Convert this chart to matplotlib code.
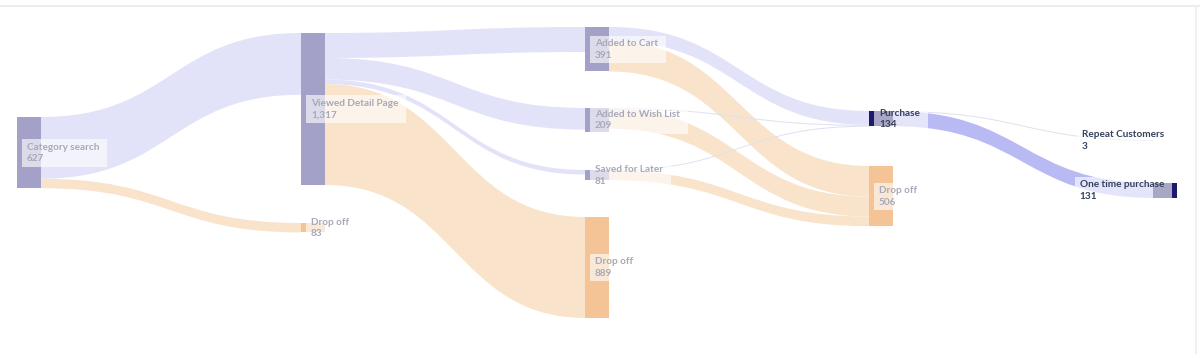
import numpy as np
import matplotlib.pyplot as plt
from matplotlib.path import Path
from matplotlib.patches import PathPatch, Rectangle

# Nodes of the funnel (name, shown value, column)
node_names = ["Category search", "Viewed Detail Page", "Drop off",
              "Added to Cart", "Added to Wish List", "Saved for Later", "Drop off",
              "Purchase", "Drop off",
              "Repeat Customers", "One time purchase"]
node_values = [627, 1317, 83, 391, 209, 81, 889, 134, 506, 3, 131]
node_columns = [0, 1, 1, 2, 2, 2, 2, 3, 3, 4, 4]

# Flows between nodes (source index, target index, value)
link_source = [0, 0, 1, 1, 1, 1, 3, 3, 4, 4, 5, 5, 7, 7]
link_target = [1, 2, 3, 4, 5, 6, 7, 8, 7, 8, 7, 8, 9, 10]
link_values = [544, 83, 220, 190, 40, 889, 122, 270, 7, 175, 5, 85, 3, 131]

# highlighted path (purchase)
highlight_nodes = [7, 9, 10]
highlight_links = [13]

# layout (pixels), node tops as laid out in the original
scale = 0.1135
node_w = 24
col_x = np.linspace(17, 1153, 5)
node_top = [117, 33, 223, 27, 108, 170, 217, 111, 166, 140, 183]

purple = "#a4a1c9"
orange = "#f4c496"
navy = "#1c1a6a"
blue_link = "#e2e2f9"
orange_link = "#f9e3cb"
hi_link = "#b9b9f4"
thin_link = "#dfe1f0"
faded_text = "#a7a9b8"
dark_text = "#34425c"

fig = plt.figure(figsize=(12, 3.54), dpi=100)
ax = fig.add_axes([0, 0, 1, 1])
ax.set_xlim(0, 1200)
ax.set_ylim(354, 0)
ax.axis("off")

n = len(node_names)
inflow = np.zeros(n)
outflow = np.zeros(n)
for s, t, v in zip(link_source, link_target, link_values):
    outflow[s] += v
    inflow[t] += v
node_h = [max(node_values[i], inflow[i], outflow[i]) * scale for i in range(n)]
node_x = [col_x[c] for c in node_columns]

# links
out_off = [0.0] * n
in_off = [0.0] * n
for k, (s, t, v) in enumerate(zip(link_source, link_target, link_values)):
    w = max(v * scale, 1.0)
    x0 = node_x[s] + node_w
    x1 = node_x[t]
    y0 = node_top[s] + out_off[s]
    y1 = node_top[t] + in_off[t]
    out_off[s] += v * scale
    in_off[t] += v * scale
    xm = (x0 + x1) / 2
    verts = [(x0, y0), (xm, y0), (xm, y1), (x1, y1),
             (x1, y1 + w), (xm, y1 + w), (xm, y0 + w), (x0, y0 + w), (x0, y0)]
    codes = [Path.MOVETO, Path.CURVE4, Path.CURVE4, Path.CURVE4,
             Path.LINETO, Path.CURVE4, Path.CURVE4, Path.CURVE4, Path.CLOSEPOLY]
    if k in highlight_links:
        col = hi_link
    elif v * scale < 1.5:
        col = thin_link
    elif node_names[t] == "Drop off":
        col = orange_link
    else:
        col = blue_link
    ax.add_patch(PathPatch(Path(verts, codes), facecolor=col, edgecolor="none", zorder=1))

# nodes
for i in range(n):
    if i in highlight_nodes:
        col = navy
    elif node_names[i] == "Drop off":
        col = orange
    else:
        col = purple
    ax.add_patch(Rectangle((node_x[i], node_top[i]), node_w, node_h[i],
                           facecolor=col, edgecolor="none", zorder=2))

# labels with translucent boxes
renderer = fig.canvas.get_renderer()
for i in range(n):
    tc = dark_text if i in highlight_nodes else faded_text
    cy = node_top[i] + node_h[i] / 2
    last = node_columns[i] == 4
    t1 = ax.text(0, cy - 5.5, node_names[i], fontsize=7.2, family="Lato",
                 weight="bold", color=tc, va="center", zorder=4)
    t2 = ax.text(0, cy + 6, f"{node_values[i]:,}", fontsize=7.2, family="Lato",
                 weight="bold", color=tc, va="center", zorder=4)
    tw = max(t1.get_window_extent(renderer).width, t2.get_window_extent(renderer).width)
    bw = tw + 13
    if last:
        bx = node_x[i] + node_w - 5 - bw
    else:
        bx = node_x[i] + 5
    t1.set_x(bx + 5)
    t2.set_x(bx + 5)
    ax.add_patch(Rectangle((bx, cy - 13.5), bw, 27.5, facecolor="white", alpha=0.62,
                           edgecolor="none", zorder=3))

# panel frame
ax.plot([0, 1200], [6, 6], color="#ececec", lw=1.5, zorder=0)
ax.plot([1196, 1196], [6, 354], color="#f0f0f0", lw=1.5, zorder=0)

fig.savefig("out.png", dpi=100, facecolor="white")
